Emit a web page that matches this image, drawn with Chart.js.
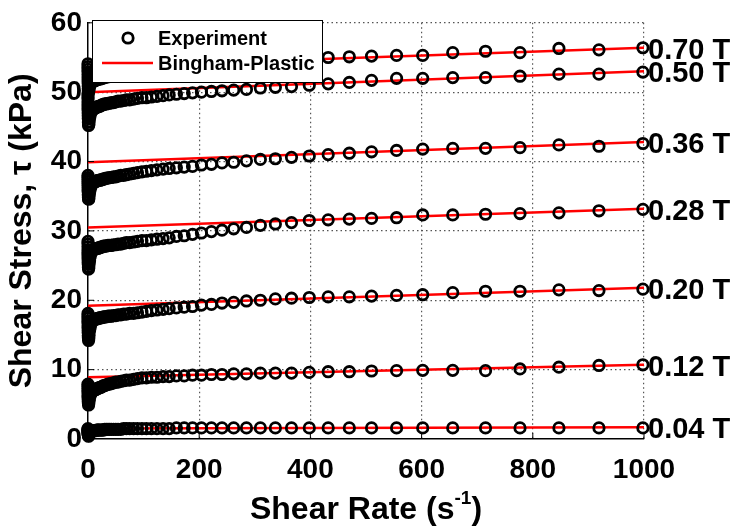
<!DOCTYPE html>
<html>
<head>
<meta charset="utf-8">
<script src="https://cdn.jsdelivr.net/npm/chart.js@4.4.1/dist/chart.umd.min.js"></script>
<style>
  html, body { margin: 0; padding: 0; background: #fff; }
</style>
</head>
<body>
<canvas id="chart" width="737" height="527"></canvas>
<script>
// shear rate (1/s), same sweep for every field strength
const shearRate = [0.02, 0.04, 0.06, 0.08, 0.1, 0.15, 0.2, 0.3, 0.4, 0.5, 0.7, 1, 1.4, 2, 2.8, 4, 5.5, 7.5,
    10, 11, 12, 13, 14, 15.5, 17, 18.5, 20,
    22, 24, 26, 28, 30, 33, 36, 39, 42, 46, 50,
    54, 59, 64, 69, 75, 82, 89, 97,
    105, 114, 124, 135, 146, 159, 173, 188, 204, 222,
    241, 262, 285, 310, 337, 366, 398, 432, 470, 510,
    555, 602, 656, 715, 777, 847, 919, 998];

// measured shear stress (kPa)
const stress004 = [1.5, 1.4, 1.3, 1.2, 1.1, 1.0, 0.9, 0.8, 0.7, 0.6, 0.5, 0.4, 0.5, 0.7, 0.8, 1.0, 1.1, 1.2,
    1.2, 1.2, 1.2, 1.2, 1.2, 1.3, 1.3, 1.3, 1.3,
    1.3, 1.3, 1.3, 1.3, 1.4, 1.4, 1.4, 1.4, 1.4, 1.4, 1.4,
    1.4, 1.4, 1.5, 1.5, 1.5, 1.5, 1.5, 1.5,
    1.5, 1.5, 1.5, 1.5, 1.5, 1.6, 1.6, 1.6, 1.6, 1.6,
    1.6, 1.6, 1.6, 1.6, 1.6, 1.6, 1.6, 1.6, 1.6, 1.6,
    1.6, 1.6, 1.6, 1.6, 1.6, 1.6, 1.6, 1.6];
const stress012 = [7.9, 7.6, 7.3, 7.0, 6.8, 6.5, 6.2, 6.0, 5.7, 5.4, 5.2, 4.9, 5.1, 5.5, 5.9, 6.3, 6.6, 6.8,
    7.0, 7.0, 7.1, 7.1, 7.2, 7.2, 7.3, 7.3, 7.4,
    7.4, 7.5, 7.6, 7.7, 7.7, 7.8, 7.9, 7.9, 8.0, 8.1, 8.2,
    8.2, 8.3, 8.4, 8.5, 8.5, 8.6, 8.7, 8.8,
    8.8, 8.9, 8.9, 9.0, 9.0, 9.1, 9.1, 9.2, 9.2, 9.3,
    9.3, 9.4, 9.4, 9.5, 9.5, 9.5, 9.6, 9.7, 9.7, 9.8,
    9.85, 9.9, 9.9, 9.85, 10.1, 10.35, 10.6, 10.7];
const stress020 = [18.1, 17.7, 17.4, 17.0, 16.7, 16.3, 16.0, 15.6, 15.3, 14.9, 14.6, 14.2, 14.5, 15.0, 15.6, 16.1, 16.6, 17.0,
    17.2, 17.2, 17.2, 17.3, 17.3, 17.3, 17.4, 17.4, 17.4,
    17.5, 17.5, 17.5, 17.6, 17.6, 17.6, 17.7, 17.7, 17.7, 17.8, 17.8,
    17.9, 17.9, 18.0, 18.0, 18.1, 18.1, 18.2, 18.3,
    18.4, 18.5, 18.6, 18.7, 18.8, 18.9, 19.0, 19.1, 19.3, 19.4,
    19.6, 19.7, 19.9, 20.0, 20.2, 20.3, 20.4, 20.5, 20.5, 20.6,
    20.7, 20.8, 21.1, 21.3, 21.3, 21.5, 21.4, 21.6];
const stress028 = [28.5, 28.1, 27.7, 27.3, 26.9, 26.6, 26.2, 25.9, 25.5, 25.2, 24.8, 24.5, 24.7, 25.2, 25.7, 26.3, 26.8, 27.1,
    27.3, 27.3, 27.4, 27.4, 27.4, 27.5, 27.5, 27.5, 27.6,
    27.6, 27.7, 27.7, 27.8, 27.8, 27.8, 27.9, 27.9, 27.9, 28.0, 28.0,
    28.1, 28.1, 28.2, 28.3, 28.3, 28.4, 28.5, 28.6,
    28.6, 28.7, 28.8, 28.9, 29.0, 29.2, 29.3, 29.5, 29.7, 29.9,
    30.1, 30.3, 30.5, 30.8, 31.0, 31.2, 31.5, 31.6, 31.7, 31.8,
    31.9, 32.3, 32.3, 32.4, 32.5, 32.6, 32.9, 33.1];
const stress036 = [38.0, 37.7, 37.4, 37.1, 36.8, 36.5, 36.2, 35.9, 35.6, 35.2, 34.9, 34.6, 34.6, 35.0, 35.5, 36.0, 36.4, 36.8,
    37.0, 37.0, 37.1, 37.1, 37.1, 37.2, 37.2, 37.3, 37.3,
    37.3, 37.4, 37.4, 37.5, 37.5, 37.6, 37.6, 37.7, 37.7, 37.8, 37.8,
    37.9, 38.0, 38.0, 38.1, 38.2, 38.3, 38.4, 38.5,
    38.6, 38.7, 38.8, 38.9, 39.0, 39.1, 39.2, 39.3, 39.5, 39.6,
    39.8, 39.9, 40.1, 40.3, 40.4, 40.6, 40.8, 41.0, 41.2, 41.4,
    41.6, 41.8, 41.9, 41.9, 42.0, 42.4, 42.2, 42.6];
const stress050 = [49.8, 49.4, 49.0, 48.6, 48.2, 47.8, 47.4, 47.0, 46.6, 46.2, 45.7, 45.2, 45.3, 45.7, 46.2, 46.7, 47.1, 47.4,
    47.6, 47.6, 47.7, 47.7, 47.8, 47.8, 47.9, 47.9, 48.0,
    48.0, 48.1, 48.2, 48.2, 48.3, 48.3, 48.4, 48.4, 48.5, 48.5, 48.6,
    48.7, 48.7, 48.8, 48.9, 48.9, 49.0, 49.1, 49.2,
    49.2, 49.3, 49.4, 49.5, 49.6, 49.7, 49.8, 49.9, 50.0, 50.1,
    50.2, 50.3, 50.4, 50.6, 50.7, 50.8, 51.0, 51.2, 51.4, 51.7,
    52.0, 52.0, 52.1, 52.1, 52.3, 52.6, 52.6, 52.9];
const stress070 = [54.1, 53.7, 53.3, 52.9, 52.5, 52.1, 51.7, 51.3, 50.9, 50.5, 50.2, 50.0, 50.2, 50.5, 50.8, 51.1, 51.3, 51.5,
    51.6, 51.6, 51.7, 51.7, 51.7, 51.8, 51.8, 51.9, 51.9,
    51.9, 52.0, 52.0, 52.1, 52.1, 52.2, 52.2, 52.3, 52.3, 52.4, 52.4,
    52.5, 52.5, 52.6, 52.7, 52.7, 52.8, 52.9, 53.0,
    53.1, 53.2, 53.3, 53.4, 53.5, 53.6, 53.7, 53.8, 53.9, 54.0,
    54.2, 54.3, 54.4, 54.5, 54.7, 54.8, 54.9, 55.0, 55.1, 55.2,
    55.3, 55.3, 55.7, 55.9, 55.7, 56.3, 56.1, 56.4];

const fieldLabels = ["0.04 T", "0.12 T", "0.20 T", "0.28 T", "0.36 T", "0.50 T", "0.70 T"];
const measured = [stress004, stress012, stress020, stress028, stress036, stress050, stress070];

// Bingham-plastic fit, stress at the two ends of the rate range
const fitRate = [0, 1000];
const fitStart = [1.5, 8.9, 19.2, 30.5, 39.9, 50.0, 53.6];
const fitEnd = [1.7, 10.7, 21.8, 33.2, 42.8, 53.0, 56.4];

const FONT = "'Liberation Sans', Arial, sans-serif";

let datasets = [];
measured.forEach((values, i) => {
    datasets.push({
        label: "Experiment " + fieldLabels[i],
        data: shearRate.map((r, j) => ({ x: r, y: values[j] })),
        showLine: false,
        pointStyle: "circle",
        pointRadius: 5.2,
        pointBorderWidth: 2.8,
        pointBorderColor: "#000",
        pointBackgroundColor: "rgba(0,0,0,0)",
        clip: false,
        order: 0
    });
    datasets.push({
        label: "Bingham-Plastic " + fieldLabels[i],
        data: [{ x: fitRate[0], y: fitStart[i] }, { x: fitRate[1], y: fitEnd[i] }],
        showLine: true,
        borderColor: "#ff0000",
        borderWidth: 2.5,
        pointRadius: 0,
        order: 1
    });
});

// tick marks pointing into the plot, matlab style
const innerTicks = {
    id: "innerTicks",
    afterDatasetsDraw(chart) {
        const ctx = chart.ctx, a = chart.chartArea;
        ctx.save();
        ctx.strokeStyle = "#000";
        ctx.lineWidth = 1;
        chart.scales.x.ticks.forEach(t => {
            let px = chart.scales.x.getPixelForValue(t.value);
            ctx.beginPath(); ctx.moveTo(px, a.bottom); ctx.lineTo(px, a.bottom - 6); ctx.stroke();
        });
        chart.scales.y.ticks.forEach(t => {
            let py = chart.scales.y.getPixelForValue(t.value);
            ctx.beginPath(); ctx.moveTo(a.left, py); ctx.lineTo(a.left + 6, py); ctx.stroke();
        });
        ctx.restore();
    }
};

// legend box drawn over the data in the top-left corner
const legendBox = {
    id: "legendBox",
    afterDatasetsDraw(chart) {
        const ctx = chart.ctx;
        let x = 92, y = 20, w = 230, h = 62;
        ctx.save();
        ctx.fillStyle = "#fff";
        ctx.fillRect(x, y, w, h);
        ctx.strokeStyle = "#000";
        ctx.lineWidth = 1;
        ctx.strokeRect(x + 0.5, y + 0.5, w, h);
        ctx.beginPath();
        ctx.arc(128, 38, 5.2, 0, Math.PI * 2);
        ctx.lineWidth = 2.8;
        ctx.stroke();
        ctx.beginPath();
        ctx.strokeStyle = "#ff0000";
        ctx.lineWidth = 2.5;
        ctx.moveTo(102, 63); ctx.lineTo(153, 63);
        ctx.stroke();
        ctx.fillStyle = "#000";
        ctx.font = "bold 20px " + FONT;
        ctx.textBaseline = "middle";
        ctx.fillText("Experiment", 158, 39);
        ctx.fillText("Bingham-Plastic", 158, 64);
        ctx.restore();
    }
};

// field strength labels at the right end of every fit line, plus the x title
const sideText = {
    id: "sideText",
    afterDraw(chart) {
        const ctx = chart.ctx;
        const ys = chart.scales.y;
        ctx.save();
        ctx.fillStyle = "#000";
        ctx.textBaseline = "middle";
        ctx.font = "bold 29px " + FONT;
        fieldLabels.forEach((lab, i) => {
            ctx.fillText(lab, 648, ys.getPixelForValue(fitEnd[i]) + 3);
        });

        ctx.textBaseline = "alphabetic";
        let main = "Shear Rate (s", sup = "-1", tail = ")";
        ctx.font = "bold 32px " + FONT;
        let w1 = ctx.measureText(main).width, w3 = ctx.measureText(tail).width;
        ctx.font = "bold 19px " + FONT;
        let w2 = ctx.measureText(sup).width;
        let x0 = 366 - (w1 + w2 + w3) / 2, base = 519;
        ctx.font = "bold 32px " + FONT;
        ctx.fillText(main, x0, base);
        ctx.fillText(tail, x0 + w1 + w2, base);
        ctx.font = "bold 19px " + FONT;
        ctx.fillText(sup, x0 + w1, base - 15);
        ctx.restore();
    }
};

function gridColor(c) {
    return c.tick && c.tick.value === 0 ? "rgba(0,0,0,0)" : "#555";
}

new Chart(document.getElementById("chart"), {
    type: "scatter",
    data: { datasets: datasets },
    options: {
        responsive: false,
        animation: false,
        layout: { padding: { top: 17, right: 93, left: 0, bottom: 0 } },
        plugins: {
            legend: { display: false },
            tooltip: { enabled: false }
        },
        scales: {
            x: {
                type: "linear",
                min: 0,
                max: 1000,
                ticks: {
                    stepSize: 200, padding: 14, color: "#000",
                    font: { family: FONT, size: 28, weight: "bold" },
                    callback: v => String(v)
                },
                grid: { color: gridColor, lineWidth: 1.2, drawTicks: false },
                border: { display: true, color: "#000", width: 1.5, dash: [1.5, 3] },
                afterFit: s => { s.height = 88; }
            },
            y: {
                min: 0,
                max: 60,
                ticks: {
                    stepSize: 10, padding: 6, color: "#000",
                    font: { family: FONT, size: 28, weight: "bold" },
                    callback: v => String(v)
                },
                grid: { color: gridColor, lineWidth: 1.2, drawTicks: false },
                border: { display: true, color: "#000", width: 1.5, dash: [1.5, 3] },
                title: {
                    display: true,
                    text: "Shear Stress, τ (kPa)",
                    color: "#000",
                    font: { family: FONT, size: 32, weight: "bold" },
                    padding: { top: 3, bottom: 0 }
                },
                afterFit: s => { s.width = 88; }
            }
        }
    },
    plugins: [innerTicks, legendBox, sideText]
});
</script>
</body>
</html>
